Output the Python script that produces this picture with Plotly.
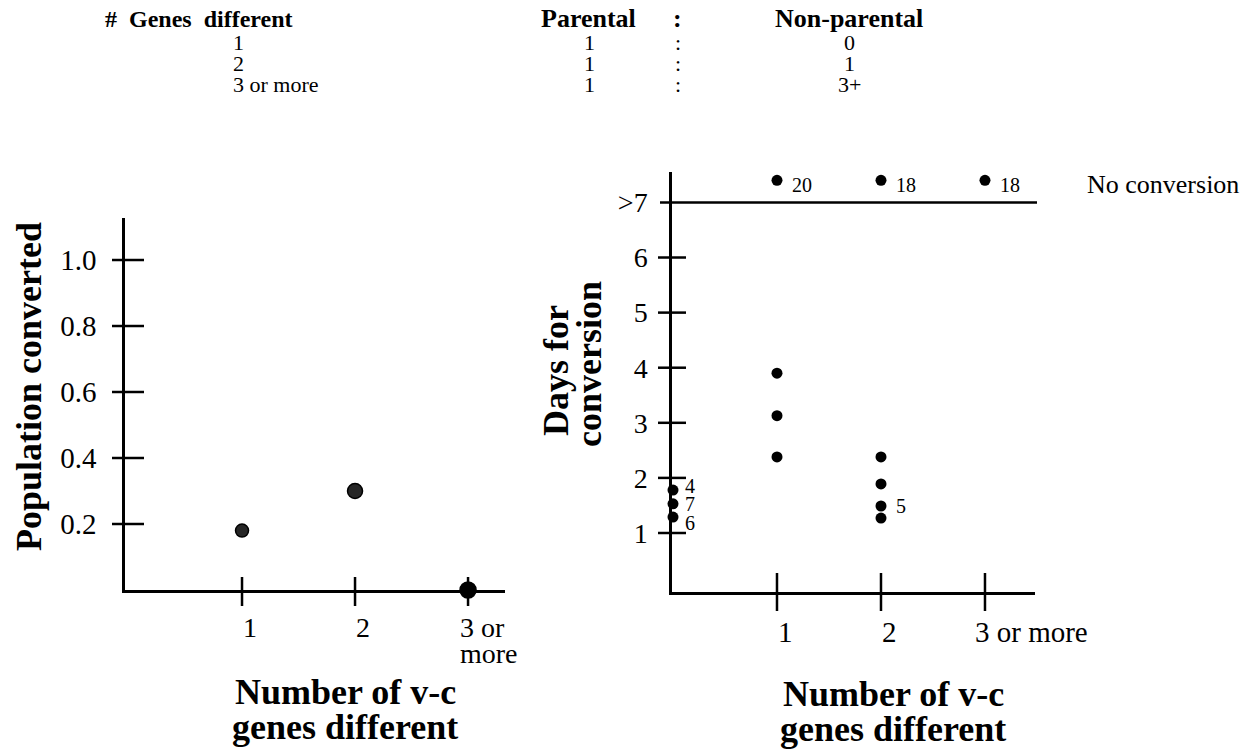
import plotly.graph_objects as go

W, H = 1247, 749

# ---------------- data ----------------
table_genes = ["1", "2", "3 or more"]
table_parental = ["1", "1", "1"]
table_nonparental = ["0", "1", "3+"]

pop_x = [1, 2, 3]
pop_y = [0.18, 0.30, 0.0]
pop_xticks = [1, 2, 3]
pop_xticklabels = ["1", "2", "3 or\nmore"]
pop_yticks = [0.2, 0.4, 0.6, 0.8, 1.0]
pop_yticklabels = ["0.2", "0.4", "0.6", "0.8", "1.0"]

conv_x = [0, 0, 0, 1, 1, 1, 2, 2, 2, 2]
conv_y = [1.78, 1.53, 1.29, 3.90, 3.13, 2.38, 2.38, 1.89, 1.49, 1.27]
conv_counts = ["4", "7", "6", "", "", "", "", "", "5", ""]
noconv_x = [1, 2, 3]
noconv_y = [7.4, 7.4, 7.4]
noconv_counts = ["20", "18", "18"]
threshold_day = 7
days_yticks = [1, 2, 3, 4, 5, 6, 7]
days_yticklabels = ["1", "2", "3", "4", "5", "6", ">7"]
days_xticks = [1, 2, 3]
days_xticklabels = ["1", "2", "3 or more"]

# ---------------- helpers ----------------
FONT = "Liberation Serif, Times New Roman, serif"


def fx(px):
    return px / W


def fy(py):
    return 1 - py / H


def f(size):
    return dict(family=FONT, size=size, color="black")


LW = 2.5
X1_RANGE = [-0.0354, 3.327]
Y1_RANGE = [0, 1.1273]
X2_RANGE = [-0.0096, 3.481]
Y2_RANGE = [-0.0708, 7.552]

fig = go.Figure()

# left panel points
fig.add_trace(go.Scatter(
    x=pop_x, y=pop_y, mode="markers", xaxis="x", yaxis="y",
    marker=dict(size=[13, 15, 16], color=["#262626", "#262626", "#000000"],
                opacity=1, line=dict(color="black", width=1.5)),
    cliponaxis=False,
))

# right panel points
fig.add_trace(go.Scatter(
    x=conv_x, y=conv_y, mode="markers", xaxis="x2", yaxis="y2",
    marker=dict(size=11, color="black", opacity=1), cliponaxis=False,
))
fig.add_trace(go.Scatter(
    x=noconv_x, y=noconv_y, mode="markers", xaxis="x2", yaxis="y2",
    marker=dict(size=11, color="black", opacity=1), cliponaxis=False,
))

LINE = dict(color="black", width=LW)
shapes = []
# tick crosses (ticks cross the axis line)
for v in pop_yticks:
    shapes.append(dict(type="line", xref="paper", yref="y", x0=fx(112), x1=fx(144),
                       y0=v, y1=v, line=LINE))
for v in pop_xticks:
    shapes.append(dict(type="line", xref="x", yref="paper", x0=v, x1=v,
                       y0=fy(606), y1=fy(577), line=LINE))
for v in days_yticks:
    if v == threshold_day:
        continue
    shapes.append(dict(type="line", xref="paper", yref="y2", x0=fx(658), x1=fx(686),
                       y0=v, y1=v, line=LINE))
for v in days_xticks:
    shapes.append(dict(type="line", xref="x2", yref="paper", x0=v, x1=v,
                       y0=fy(611), y1=fy(573), line=LINE))
# threshold line at ">7"
shapes.append(dict(type="line", xref="paper", yref="y2", x0=fx(660), x1=fx(1037),
                   y0=threshold_day, y1=threshold_day, line=LINE))

ann = []


def add_paper(text, px, py, size, xanchor="center", angle=0):
    ann.append(dict(text=text, x=fx(px), y=fy(py), xref="paper", yref="paper",
                    xanchor=xanchor, yanchor="middle", showarrow=False,
                    textangle=angle, font=f(size)))


# header table
add_paper("<b>#  Genes&nbsp; different</b>", 103, 19, 24, "left")
add_paper("<b>Parental</b>", 539, 19, 26, "left")
add_paper("<b>:</b>", 677, 19, 26, "center")
add_paper("<b>Non-parental</b>", 773, 19, 26, "left")
for ry, g, p, n in zip([42, 63, 84], table_genes, table_parental, table_nonparental):
    add_paper(g, 231, ry, 22, "left")
    add_paper(p, 589, ry, 22, "center")
    add_paper(":", 678, ry, 22, "center")
    add_paper(n, 849, ry, 22, "center")

# x tick labels (left)
for v, t in zip(pop_xticks, pop_xticklabels):
    lines = t.split("\n")
    if len(lines) == 1:
        ann.append(dict(text=t, x=v, y=fy(627), xref="x", yref="paper", xanchor="center",
                        xshift=8, yanchor="middle", showarrow=False, font=f(28)))
    else:
        for k, ln in enumerate(lines):
            ann.append(dict(text=ln, x=v, y=fy(627 + 26 * k), xref="x", yref="paper",
                            xanchor="left", xshift=-10, yanchor="middle", showarrow=False,
                            font=f(28)))
# x tick labels (right)
for v, t in zip(days_xticks, days_xticklabels):
    multi = " " in t
    ann.append(dict(text=t, x=v, y=fy(632), xref="x2", yref="paper",
                    xanchor="left" if multi else "center", xshift=-12 if multi else 9,
                    yanchor="middle", showarrow=False, font=f(29)))

# axis titles
add_paper("<b>Population converted</b>", 29, 387, 36, angle=-90)
add_paper("<b>Number of v-c</b>", 345, 692, 36)
add_paper("<b>genes different</b>", 345, 727, 36)
add_paper("<b>Number of v-c</b>", 893, 694, 36)
add_paper("<b>genes different</b>", 893, 729, 36)
add_paper("<b>Days for</b>", 556, 371, 36, angle=-90)
add_paper("<b>conversion</b>", 589, 364, 36, angle=-90)

# count labels
count_yshift = {0: 4, 1: 0, 2: -6}
for i, (x, y, t) in enumerate(zip(conv_x, conv_y, conv_counts)):
    if t:
        ann.append(dict(text=t, x=x, y=y, xref="x2", yref="y2", xanchor="left",
                        xshift=10 if x == 0 else 13, yshift=count_yshift.get(i, 0),
                        yanchor="middle", showarrow=False, font=f(20)))
for x, y, t in zip(noconv_x, noconv_y, noconv_counts):
    ann.append(dict(text=t, x=x, y=y, xref="x2", yref="y2", xanchor="left", xshift=13,
                    yshift=-5, yanchor="middle", showarrow=False, font=f(20)))
add_paper("No conversion", 1085, 184, 26, "left")

axis_common = dict(showline=True, linecolor="black", linewidth=LW, showgrid=False,
                   zeroline=False, ticks="", fixedrange=True)

fig.update_layout(
    width=W, height=H, autosize=False,
    margin=dict(l=0, r=0, t=0, b=0, pad=0),
    paper_bgcolor="white", plot_bgcolor="white",
    showlegend=False,
    font=dict(family=FONT, color="black"),
    xaxis=dict(domain=[fx(125), fx(505)], range=X1_RANGE, anchor="y",
               showticklabels=False, **axis_common),
    yaxis=dict(domain=[fy(590), fy(218)], range=Y1_RANGE, anchor="x",
               tickvals=pop_yticks, ticktext=pop_yticklabels, tickfont=f(29),
               ticklabelstandoff=20, **axis_common),
    xaxis2=dict(domain=[fx(672), fx(1035)], range=X2_RANGE, anchor="y2",
                showticklabels=False, **axis_common),
    yaxis2=dict(domain=[fy(592), fy(172)], range=Y2_RANGE, anchor="x2",
                tickvals=days_yticks, ticktext=days_yticklabels, tickfont=f(28),
                ticklabelstandoff=16, **axis_common),
    shapes=shapes,
    annotations=ann,
)

fig.write_html("out.html", config={"displayModeBar": False},
               post_script="document.body.style.margin='0';document.body.style.overflow='hidden';")
